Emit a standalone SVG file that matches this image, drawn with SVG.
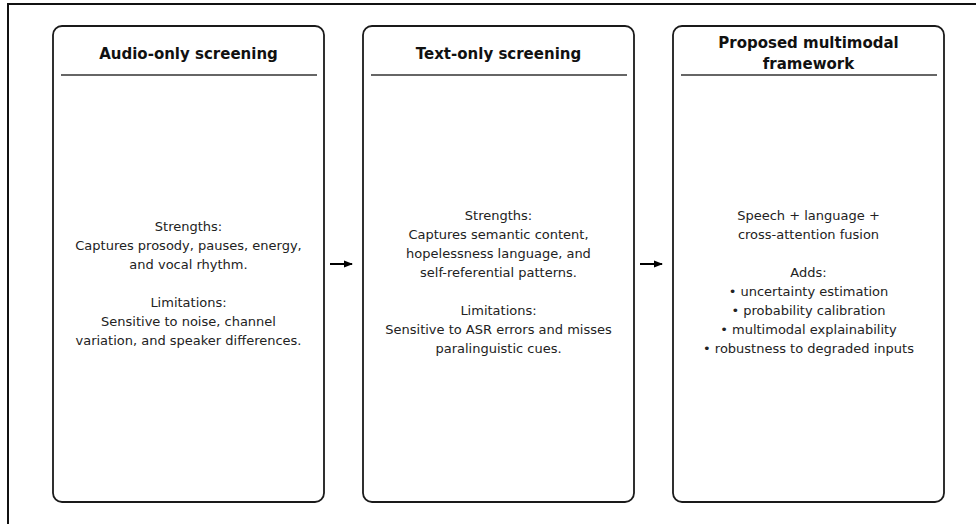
<svg xmlns="http://www.w3.org/2000/svg" width="976" height="524" viewBox="0 0 976 524">
<style>
.frame{fill:none;stroke:#111;stroke-width:2}
.box{fill:#fff;stroke:#1a1a1a;stroke-width:1.8}
.rule{stroke:#333;stroke-width:1.4}
.title{font-family:"DejaVu Sans",sans-serif;font-weight:bold;font-size:15px;fill:#111;text-anchor:middle}
.body{font-family:"DejaVu Sans",sans-serif;font-size:13px;fill:#222;text-anchor:middle}
.conn{stroke:#000;stroke-width:2;fill:none}
</style>
<defs>
<marker id="ah" markerWidth="9" markerHeight="8" refX="8" refY="4" orient="auto" markerUnits="userSpaceOnUse">
<path d="M0,0.5 L9,4 L0,7.5 Z" fill="#000"/>
</marker>
</defs>
<rect x="0" y="0" width="976" height="524" fill="#fff"/>
<rect class="frame" x="8" y="4" width="980" height="540"/>
<g id="audio">
<rect class="box" x="53" y="26" width="271" height="476" rx="9"/>
<text class="title" x="188.5" y="58.5">Audio-only screening</text>
<line class="rule" x1="61" y1="75" x2="317" y2="75"/>
<text class="body" x="188.5" y="230.5">Strengths:</text>
<text class="body" x="188.5" y="249.5">Captures prosody, pauses, energy,</text>
<text class="body" x="188.5" y="268.5">and vocal rhythm.</text>
<text class="body" x="188.5" y="306.5">Limitations:</text>
<text class="body" x="188.5" y="325.5">Sensitive to noise, channel</text>
<text class="body" x="188.5" y="344.5">variation, and speaker differences.</text>
</g>
<g id="text">
<rect class="box" x="363" y="26" width="271" height="476" rx="9"/>
<text class="title" x="498.5" y="58.5">Text-only screening</text>
<line class="rule" x1="371" y1="75" x2="627" y2="75"/>
<text class="body" x="498.5" y="219.5">Strengths:</text>
<text class="body" x="498.5" y="238.5">Captures semantic content,</text>
<text class="body" x="498.5" y="257.5">hopelessness language, and</text>
<text class="body" x="498.5" y="276.5">self-referential patterns.</text>
<text class="body" x="498.5" y="314.5">Limitations:</text>
<text class="body" x="498.5" y="333.5">Sensitive to ASR errors and misses</text>
<text class="body" x="498.5" y="352.5">paralinguistic cues.</text>
</g>
<g id="multimodal">
<rect class="box" x="673" y="26" width="271" height="476" rx="9"/>
<text class="title" x="808.5" y="48">Proposed multimodal</text>
<text class="title" x="808.5" y="69">framework</text>
<line class="rule" x1="681" y1="75" x2="937" y2="75"/>
<text class="body" x="808.5" y="219.5">Speech + language +</text>
<text class="body" x="808.5" y="238.5">cross-attention fusion</text>
<text class="body" x="808.5" y="276.5">Adds:</text>
<text class="body" x="808.5" y="295.5">• uncertainty estimation</text>
<text class="body" x="808.5" y="314.5">• probability calibration</text>
<text class="body" x="808.5" y="333.5">• multimodal explainability</text>
<text class="body" x="808.5" y="352.5">• robustness to degraded inputs</text>
</g>
<g id="connectors">
<line class="conn" x1="330" y1="264" x2="352" y2="264" marker-end="url(#ah)"/>
<line class="conn" x1="640" y1="264" x2="662" y2="264" marker-end="url(#ah)"/>
</g>
</svg>
